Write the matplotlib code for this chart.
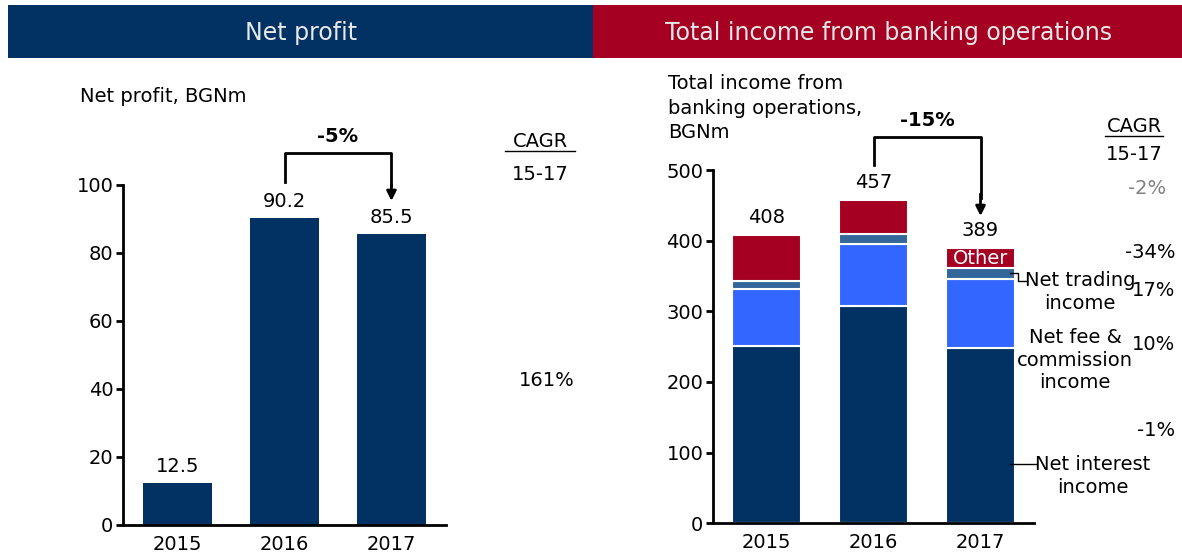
import numpy as np
import matplotlib.pyplot as plt
from matplotlib.patches import Rectangle

# data
years = ['2015', '2016', '2017']
net_profit = [12.5, 90.2, 85.5]

net_interest = [251, 307, 248]
net_fee = [81, 88, 98]
net_trading = [11, 14, 15]
other = [65, 48, 28]
totals = [408, 457, 389]

cagr_income = ['-2%', '-34%', '17%', '10%', '-1%']
cagr_profit = '161%'

NAVY = '#023263'
RED = '#A50021'
BLUE = '#3366FF'
STEEL = '#336699'
FS = 14

W, H = 1182, 553
fig = plt.figure(figsize=(W / 100, H / 100), dpi=100)
plt.rcParams['font.family'] = 'DejaVu Sans'


def px(x, y):
    # pixel coords (from top-left) to figure fraction
    return x / W, 1 - y / H


def ftext(x, y, s, **kw):
    fx, fy = px(x, y)
    kw.setdefault('fontsize', FS)
    kw.setdefault('va', 'center')
    return fig.text(fx, fy, s, **kw)


def fline(xs, ys, **kw):
    fxs = [x / W for x in xs]
    fys = [1 - y / H for y in ys]
    fig.add_artist(plt.Line2D(fxs, fys, transform=fig.transFigure, **kw))


# header bands
fig.add_artist(Rectangle(px(8, 58), 585 / W, 53 / H, transform=fig.transFigure,
                         color=NAVY, lw=0))
fig.add_artist(Rectangle(px(593, 58), 589 / W, 53 / H, transform=fig.transFigure,
                         color=RED, lw=0))
ftext(301, 33, 'Net profit', color='#E8E8E8', fontsize=17, ha='center')
ftext(889, 33, 'Total income from banking operations', color='#E8E8E8', fontsize=17, ha='center')


def style_axis(ax):
    ax.spines['top'].set_visible(False)
    ax.spines['right'].set_visible(False)
    ax.spines['left'].set_linewidth(2)
    ax.spines['bottom'].set_linewidth(2)
    ax.tick_params(axis='y', labelsize=FS, width=2, length=5, pad=2)
    ax.tick_params(axis='x', labelsize=FS, length=0, pad=7)


# ---- left chart: net profit
ax1 = fig.add_axes([123 / W, 28 / H, 323 / W, 340 / H])
x = np.arange(len(years))
ax1.bar(x, net_profit, width=0.645, color=NAVY)
ax1.set_xlim(-0.51, 2.51)
ax1.set_ylim(0, 100)
ax1.set_yticks([0, 20, 40, 60, 80, 100])
ax1.set_xticks(x)
ax1.set_xticklabels(years)
style_axis(ax1)
for i, v in enumerate(net_profit):
    ax1.annotate(f'{v:.1f}', (i, v), xytext=(0, 5), textcoords='offset points',
                 ha='center', va='bottom', fontsize=FS)

# bracket arrow -5%
ax1.plot([1, 1, 2, 2], [100.9, 109.4, 109.4, 100], color='black', lw=2, clip_on=False)
ax1.annotate('', xy=(2, 94.5), xytext=(2, 101), annotation_clip=False,
             arrowprops=dict(arrowstyle='-|>', color='black', lw=2, mutation_scale=14))
ftext(338, 137, '-5%', fontweight='bold', ha='center')

ftext(80, 97, 'Net profit, BGNm')
ftext(540, 141, 'CAGR', ha='center')
fline([505, 575], [151, 151], color='black', lw=1)
ftext(540, 175, '15-17', ha='center')
ftext(575, 381, cagr_profit, ha='right')

# ---- right chart: total income
ax2 = fig.add_axes([713 / W, 29.7 / H, 321 / W, 353.3 / H])
bottoms = np.zeros(len(years))
for vals, col in [(net_interest, NAVY), (net_fee, BLUE), (net_trading, STEEL), (other, RED)]:
    ax2.bar(x, vals, bottom=bottoms, width=0.645, color=col, edgecolor='white', linewidth=1.5)
    bottoms += np.array(vals)
ax2.set_xlim(-0.5, 2.5)
ax2.set_ylim(0, 500)
ax2.set_yticks([0, 100, 200, 300, 400, 500])
ax2.set_xticks(x)
ax2.set_xticklabels(years)
style_axis(ax2)
for i, v in enumerate(totals):
    ax2.annotate(f'{v}', (i, bottoms[i]), xytext=(0, 6), textcoords='offset points',
                 ha='center', va='bottom', fontsize=FS)

ax2.plot([1, 1, 2, 2], [507, 547, 547, 460], color='black', lw=2, clip_on=False)
ax2.annotate('', xy=(2, 431), xytext=(2, 470), annotation_clip=False,
             arrowprops=dict(arrowstyle='-|>', color='black', lw=2, mutation_scale=14))
ftext(927, 120, '-15%', fontweight='bold', ha='center')

# segment labels
ax2.text(2, bottoms[2] - other[2] / 2, 'Other', color='white', ha='center', va='center', fontsize=FS)
fline([1010, 1018, 1018, 1027], [273, 273, 281, 281], color='black', lw=1)
ftext(1080, 292, 'Net trading\nincome', ha='center', linespacing=1.25)
ftext(1075, 360, 'Net fee &\ncommission\nincome', ha='center', linespacing=1.25)
fline([1010, 1037], [464, 464], color='black', lw=1)
ftext(1093, 476, 'Net interest\nincome', ha='center', linespacing=1.25)

ftext(668, 108, 'Total income from\nbanking operations,\nBGNm', linespacing=1.35)
ftext(1134, 126, 'CAGR', ha='center')
fline([1105, 1163], [136, 136], color='black', lw=1)
ftext(1134, 155, '15-17', ha='center')
cagr_y = [188, 253, 290, 345, 430]
for s, yy in zip(cagr_income, cagr_y):
    ftext(1175 if s != '-2%' else 1166, yy, s, ha='right',
          color='#808080' if s == '-2%' else 'black')

fig.savefig('out.png', dpi=100)
